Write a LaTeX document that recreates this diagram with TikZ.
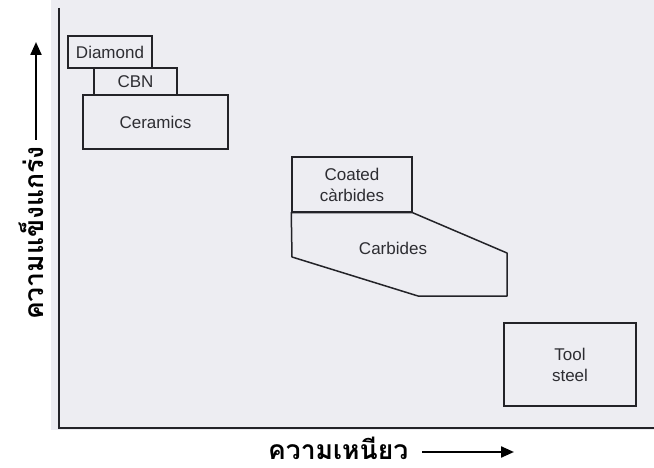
\documentclass[tikz,border=0pt]{standalone}
\usepackage{fontspec}
\setmainfont{Liberation Sans}
\newfontfamily\thaifont[Script=Thai]{Loma}
\usetikzlibrary{arrows.meta}
\definecolor{paper}{RGB}{237,237,242}
\definecolor{ink}{RGB}{35,35,40}
\definecolor{boxtext}{RGB}{45,45,50}
\begin{document}
\begin{tikzpicture}[x=1pt,y=-1pt,
  box/.style={draw=ink,line width=1.5pt,inner sep=0pt,align=center,
    text=boxtext,font=\fontsize{17}{21}\selectfont},
  axis/.style={draw=ink,line width=1.8pt},
  label/.style={font=\thaifont\bfseries\fontsize{26.5}{30}\selectfont,text=black,inner sep=0pt},
  pointer/.style={line width=2.2pt,-{Triangle[length=13pt,width=11pt]}}]
\useasboundingbox (0,0) rectangle (654,468);
\fill[white] (0,0) rectangle (654,468);
% scanned page area
\fill[paper] (51,0) rectangle (654,430);

% axes
\coordinate (origin) at (59,428);
\coordinate (ytop) at (59,8);
\coordinate (xend) at (654,428);
\draw[axis] (ytop) -- (origin) -- (xend);

% tool material boxes
\node[box,minimum width=84pt,minimum height=32pt] (diamond) at (110,52) {Diamond};
\node[box,minimum width=83pt,minimum height=27pt] (cbn) at (135.5,81.5) {CBN};
\node[box,minimum width=145pt,minimum height=54pt] (ceramics) at (155.5,122) {Ceramics};
\node[box,minimum width=120pt,minimum height=55pt] (coated) at (352,184.5) {Coated\\càrbides};
\draw[ink,line width=1.5pt,line join=round] (coated.south west) -- (coated.south east) -- (507,253)
  -- (507,296) -- (418,296) -- (292,257) -- cycle;
\node[text=boxtext,font=\fontsize{17}{21}\selectfont] (carbides) at (393,248) {Carbides};
\node[box,minimum width=132pt,minimum height=83pt] (toolsteel) at (570,364.5) {Tool\\steel};

% axis titles
\node[label,text depth=0pt,anchor=base west] (toughness) at (268,459) {ความเหนียว};
\coordinate (xarrow) at (514,452);
\draw[pointer] (422,452) -- (xarrow);
\node[label,rotate=90,anchor=base west] (hardness) at (43,320) {ความแข็งแกร่ง};
\coordinate (yarrow) at (36,42);
\draw[pointer] (36,140) -- (yarrow);
\end{tikzpicture}
\end{document}
